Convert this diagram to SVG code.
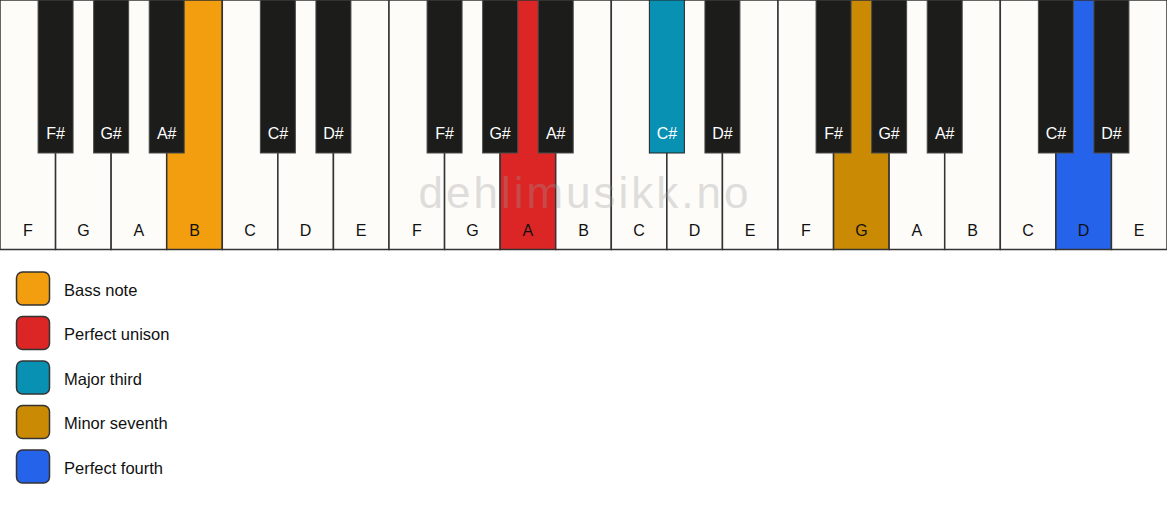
<svg xmlns="http://www.w3.org/2000/svg" width="1167" height="506" viewBox="0 0 1167 506">
<style>
.w{fill:#fdfcf8;stroke:#333;stroke-width:1.5}
.b{fill:#1c1c1b;stroke:#4a4a4a;stroke-width:1}
.wl{font-family:"Liberation Sans",Arial,sans-serif;font-size:16px;fill:#111;text-anchor:middle}
.bl{font-family:"Liberation Sans",Arial,sans-serif;font-size:16px;fill:#fff;text-anchor:middle}
.lg{stroke:#333;stroke-width:1.5}
.lt{font-family:"Liberation Sans",Arial,sans-serif;font-size:16.5px;fill:#111}
.wm{font-family:"Liberation Sans",Arial,sans-serif;font-size:44px;fill:#999;opacity:0.3;text-anchor:middle;letter-spacing:3px}
</style>
<rect width="1167" height="506" fill="#fff"/>
<g id="white-keys">
<g id="w0"><rect class="w" x="0" y="0" width="55.57" height="249.5"/><text class="wl" x="27.8" y="236">F</text></g>
<g id="w1"><rect class="w" x="55.57" y="0" width="55.57" height="249.5"/><text class="wl" x="83.4" y="236">G</text></g>
<g id="w2"><rect class="w" x="111.14" y="0" width="55.57" height="249.5"/><text class="wl" x="138.9" y="236">A</text></g>
<g id="w3"><rect class="w" x="166.71" y="0" width="55.57" height="249.5" style="fill:#f39e0e"/><text class="wl" x="194.5" y="236">B</text></g>
<g id="w4"><rect class="w" x="222.29" y="0" width="55.57" height="249.5"/><text class="wl" x="250.1" y="236">C</text></g>
<g id="w5"><rect class="w" x="277.86" y="0" width="55.57" height="249.5"/><text class="wl" x="305.6" y="236">D</text></g>
<g id="w6"><rect class="w" x="333.43" y="0" width="55.57" height="249.5"/><text class="wl" x="361.2" y="236">E</text></g>
<g id="w7"><rect class="w" x="389" y="0" width="55.57" height="249.5"/><text class="wl" x="416.8" y="236">F</text></g>
<g id="w8"><rect class="w" x="444.57" y="0" width="55.57" height="249.5"/><text class="wl" x="472.4" y="236">G</text></g>
<g id="w9"><rect class="w" x="500.14" y="0" width="55.57" height="249.5" style="fill:#dc2626"/><text class="wl" x="527.9" y="236">A</text></g>
<g id="w10"><rect class="w" x="555.71" y="0" width="55.57" height="249.5"/><text class="wl" x="583.5" y="236">B</text></g>
<g id="w11"><rect class="w" x="611.29" y="0" width="55.57" height="249.5"/><text class="wl" x="639.1" y="236">C</text></g>
<g id="w12"><rect class="w" x="666.86" y="0" width="55.57" height="249.5"/><text class="wl" x="694.6" y="236">D</text></g>
<g id="w13"><rect class="w" x="722.43" y="0" width="55.57" height="249.5"/><text class="wl" x="750.2" y="236">E</text></g>
<g id="w14"><rect class="w" x="778" y="0" width="55.57" height="249.5"/><text class="wl" x="805.8" y="236">F</text></g>
<g id="w15"><rect class="w" x="833.57" y="0" width="55.57" height="249.5" style="fill:#ca8a04"/><text class="wl" x="861.4" y="236">G</text></g>
<g id="w16"><rect class="w" x="889.14" y="0" width="55.57" height="249.5"/><text class="wl" x="916.9" y="236">A</text></g>
<g id="w17"><rect class="w" x="944.71" y="0" width="55.57" height="249.5"/><text class="wl" x="972.5" y="236">B</text></g>
<g id="w18"><rect class="w" x="1000.29" y="0" width="55.57" height="249.5"/><text class="wl" x="1028.1" y="236">C</text></g>
<g id="w19"><rect class="w" x="1055.86" y="0" width="55.57" height="249.5" style="fill:#2563eb"/><text class="wl" x="1083.6" y="236">D</text></g>
<g id="w20"><rect class="w" x="1111.43" y="0" width="55.57" height="249.5"/><text class="wl" x="1139.2" y="236">E</text></g>
</g>
<g id="black-keys">
<g id="b0"><rect class="b" x="38.07" y="0" width="35" height="153"/><text class="bl" x="55.6" y="139">F#</text></g>
<g id="b1"><rect class="b" x="93.64" y="0" width="35" height="153"/><text class="bl" x="111.1" y="139">G#</text></g>
<g id="b2"><rect class="b" x="149.21" y="0" width="35" height="153"/><text class="bl" x="166.7" y="139">A#</text></g>
<g id="b3"><rect class="b" x="260.36" y="0" width="35" height="153"/><text class="bl" x="277.9" y="139">C#</text></g>
<g id="b4"><rect class="b" x="315.93" y="0" width="35" height="153"/><text class="bl" x="333.4" y="139">D#</text></g>
<g id="b5"><rect class="b" x="427.07" y="0" width="35" height="153"/><text class="bl" x="444.6" y="139">F#</text></g>
<g id="b6"><rect class="b" x="482.64" y="0" width="35" height="153"/><text class="bl" x="500.1" y="139">G#</text></g>
<g id="b7"><rect class="b" x="538.21" y="0" width="35" height="153"/><text class="bl" x="555.7" y="139">A#</text></g>
<g id="b8"><rect class="b" x="649.36" y="0" width="35" height="153" style="fill:#0891b2;stroke:#222"/><text class="bl" x="666.9" y="139">C#</text></g>
<g id="b9"><rect class="b" x="704.93" y="0" width="35" height="153"/><text class="bl" x="722.4" y="139">D#</text></g>
<g id="b10"><rect class="b" x="816.07" y="0" width="35" height="153"/><text class="bl" x="833.6" y="139">F#</text></g>
<g id="b11"><rect class="b" x="871.64" y="0" width="35" height="153"/><text class="bl" x="889.1" y="139">G#</text></g>
<g id="b12"><rect class="b" x="927.21" y="0" width="35" height="153"/><text class="bl" x="944.7" y="139">A#</text></g>
<g id="b13"><rect class="b" x="1038.36" y="0" width="35" height="153"/><text class="bl" x="1055.9" y="139">C#</text></g>
<g id="b14"><rect class="b" x="1093.93" y="0" width="35" height="153"/><text class="bl" x="1111.4" y="139">D#</text></g>
</g>
<text id="watermark" class="wm" x="585" y="208">dehlimusikk.no</text>
<g id="legend">
<g id="lg0"><rect class="lg" x="16.5" y="272" width="33" height="33" rx="6" fill="#f39e0e"/><text class="lt" x="64" y="295.5">Bass note</text></g>
<g id="lg1"><rect class="lg" x="16.5" y="316.5" width="33" height="33" rx="6" fill="#dc2626"/><text class="lt" x="64" y="340">Perfect unison</text></g>
<g id="lg2"><rect class="lg" x="16.5" y="361" width="33" height="33" rx="6" fill="#0891b2"/><text class="lt" x="64" y="384.5">Major third</text></g>
<g id="lg3"><rect class="lg" x="16.5" y="405.5" width="33" height="33" rx="6" fill="#ca8a04"/><text class="lt" x="64" y="429">Minor seventh</text></g>
<g id="lg4"><rect class="lg" x="16.5" y="450" width="33" height="33" rx="6" fill="#2563eb"/><text class="lt" x="64" y="473.5">Perfect fourth</text></g>
</g>
<g id="connectors"></g>
</svg>
